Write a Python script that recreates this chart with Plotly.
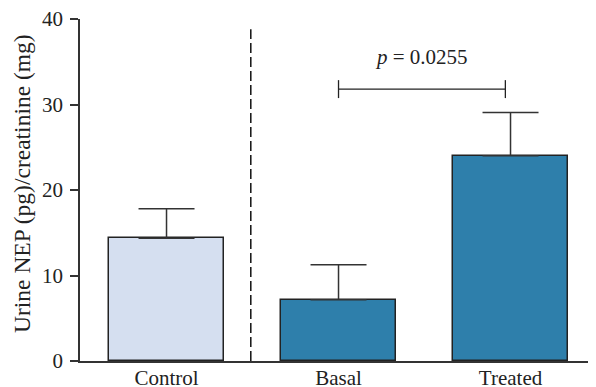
import plotly.graph_objects as go

categories = ["Control", "Basal", "Treated"]
means = [14.35, 7.15, 24.0]
err_up = [3.45, 4.1, 5.05]
colors = ["#d5dff0", "#2e7fab", "#2e7fab"]
y_ticks = [0, 10, 20, 30, 40]
y_title = "Urine NEP (pg)/creatinine (mg)"
p_label = "<i>p</i> = 0.0255"
bracket_y = 31.8

FONT = "Liberation Serif"
FS = 21
fig = go.Figure()
fig.add_trace(go.Bar(
    x=[0, 1, 2], y=means, width=0.67,
    marker=dict(color=colors, line=dict(color="#222222", width=1.5)),
    error_y=dict(type="data", symmetric=False, array=err_up,
                 arrayminus=[0, 0, 0], color="#333333", thickness=1.5, width=28),
    showlegend=False,
))

# dashed separator
fig.add_shape(type="line", x0=0.49, x1=0.49, y0=0, y1=38.8, xref="x", yref="y",
              line=dict(color="#111111", width=1.5, dash="10px,4px"))
# significance bracket
fig.add_shape(type="line", x0=1.0, x1=1.97, y0=bracket_y, y1=bracket_y,
              line=dict(color="#222222", width=1.3))
for xx in [1.0, 1.97]:
    fig.add_shape(type="line", x0=xx, x1=xx, y0=bracket_y - 1.05, y1=bracket_y + 1.05,
                  line=dict(color="#222222", width=1.3))
fig.add_annotation(x=1.48, y=35.6, text=p_label, showarrow=False,
                   font=dict(family=FONT, size=FS, color="#222222"))
# y-axis title
fig.add_annotation(x=0, y=0.5, xref="paper", yref="paper", text=y_title,
                   textangle=-90, showarrow=False, xanchor="center", yanchor="middle",
                   xshift=-58, yshift=6,
                   font=dict(family=FONT, size=23.5, color="#222222"))

# page body has an 8px margin, so the figure is shrunk by 8px to fit the window
fig.update_layout(
    width=588, height=379,
    margin=dict(l=72, r=0, t=11, b=26, autoexpand=False),
    plot_bgcolor="white", paper_bgcolor="white",
    font=dict(family=FONT, size=FS, color="#222222"),
    bargap=0,
)
fig.update_xaxes(range=[-0.503, 2.497], tickvals=[0, 1, 2], ticktext=categories,
                 showline=True, linecolor="#333333", linewidth=1.5,
                 ticks="", ticklabelstandoff=-3,
                 showgrid=False, zeroline=False, tickfont=dict(size=FS),
                 automargin=False, ticklabeloverflow="allow")
fig.update_yaxes(range=[0, 40], tickvals=y_ticks, showline=True, linecolor="#333333",
                 linewidth=1.5, ticks="outside", ticklen=8, tickwidth=1.5,
                 tickcolor="#333333", showgrid=False, zeroline=False,
                 ticklabelstandoff=3,
                 tickfont=dict(size=FS), automargin=False, ticklabeloverflow="allow")

fig.write_html("out.html")
